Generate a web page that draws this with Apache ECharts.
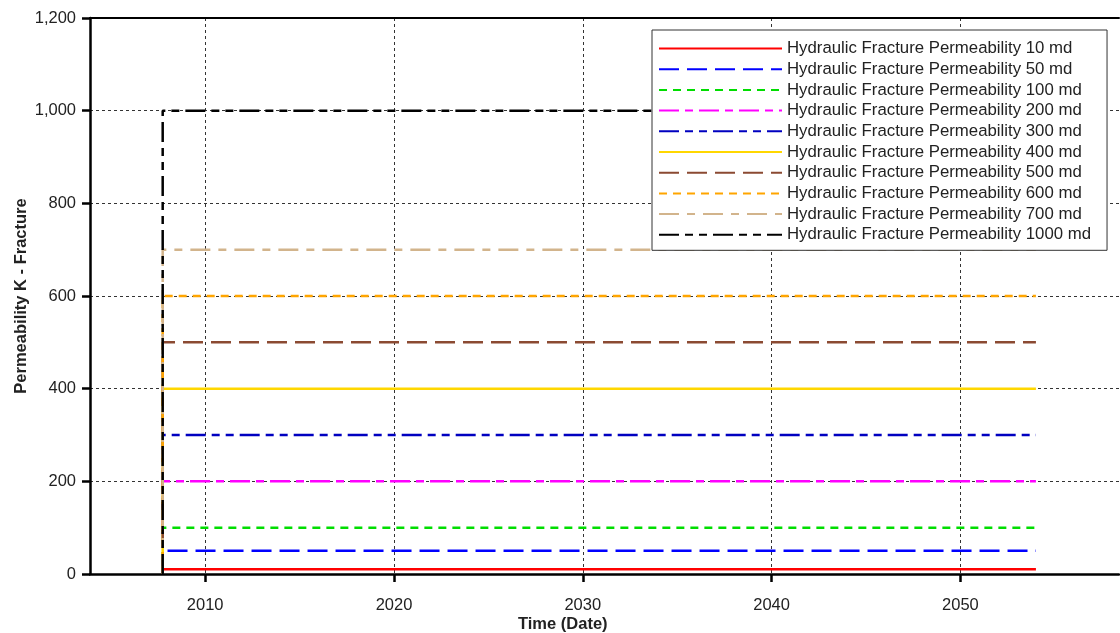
<!DOCTYPE html>
<html>
<head>
<meta charset="utf-8">
<script src="https://cdn.jsdelivr.net/npm/echarts@6/dist/echarts.min.js"></script>
<style>
  html, body { margin: 0; padding: 0; background: #fff; }
  #frac-perm { width: 1120px; height: 633px; }
</style>
</head>
<body>
<div id="frac-perm"></div>
<script>
  // data
  var seriesNames = [
    'Hydraulic Fracture Permeability 10 md',
    'Hydraulic Fracture Permeability 50 md',
    'Hydraulic Fracture Permeability 100 md',
    'Hydraulic Fracture Permeability 200 md',
    'Hydraulic Fracture Permeability 300 md',
    'Hydraulic Fracture Permeability 400 md',
    'Hydraulic Fracture Permeability 500 md',
    'Hydraulic Fracture Permeability 600 md',
    'Hydraulic Fracture Permeability 700 md',
    'Hydraulic Fracture Permeability 1000 md'
  ]
  var permValues = [10, 50, 100, 200, 300, 400, 500, 600, 700, 1000]
  var startYear = 2007.75
  var endYear = 2054.0
  var yearTicks = [2010, 2020, 2030, 2040, 2050]

  // styles
  var colors = ['#ff0000', '#0000ff', '#00dd00', '#ff00ff', '#0000c0', '#ffd700', '#8b4a32', '#ffa500', '#d2b48c', '#000000']
  var dashes = ['solid', [20, 8], [8, 6], [20, 6, 8, 6], [20, 6, 8, 6, 8, 6], 'solid', [20, 8], [8, 6], [20, 8, 8, 8], [20, 6, 8, 6, 8, 6]]

  var chart = echarts.init(document.getElementById('frac-perm'))

  var series = permValues.map(function (v, i) {
    return {
      name: seriesNames[i],
      type: 'line',
      showSymbol: false,
      symbol: 'none',
      animation: false,
      lineStyle: { color: colors[i], width: 2.5, type: dashes[i] },
      itemStyle: { color: colors[i] },
      data: [[startYear, 0], [startYear, v], [endYear, v]]
    }
  })

  var font = 'Liberation Sans, Arial, sans-serif'

  var option = {
    backgroundColor: '#fff',
    animation: false,
    textStyle: { fontFamily: font },
    title: {
      text: 'Time (Date)',
      left: 518,
      top: 616,
      padding: 0,
      textStyle: { fontSize: 16.5, fontWeight: 'bold', color: '#222', fontFamily: font }
    },
    grid: { left: 90, right: 1, top: 18, bottom: 59 },
    legend: {
      orient: 'vertical',
      left: 652,
      top: 30,
      data: seriesNames,
      itemWidth: 123,
      itemHeight: 14,
      itemGap: 3.7,
      padding: [10, 16, 7, 6],
      backgroundColor: '#fff',
      borderColor: '#333',
      borderWidth: 1,
      itemStyle: { opacity: 0 },
      textStyle: { fontSize: 16.8, color: '#222', fontFamily: font }
    },
    xAxis: [{
      type: 'value',
      min: 2003.9,
      max: 2058.4,
      axisLine: { lineStyle: { color: '#000', width: 2.5 } },
      axisTick: { customValues: yearTicks, length: 8, lineStyle: { color: '#000', width: 2.5 } },
      axisLabel: {
        customValues: yearTicks,
        margin: 23,
        fontSize: 16.5,
        color: '#222',
        formatter: function (v) { return String(v) }
      },
      splitLine: { show: true, lineStyle: { color: '#333', type: [3, 3], width: 1 } }
    }, {
      type: 'value',
      position: 'top',
      min: 2003.9,
      max: 2058.4,
      axisLine: { show: true, lineStyle: { color: '#000', width: 2 } },
      axisTick: { show: false },
      axisLabel: { show: false },
      splitLine: { show: false }
    }],
    yAxis: {
      type: 'value',
      min: 0,
      max: 1200,
      interval: 200,
      name: 'Permeability K - Fracture',
      nameLocation: 'middle',
      nameGap: 60,
      nameMoveOverlap: false,
      nameTextStyle: { fontSize: 16.5, fontWeight: 'bold', color: '#222' },
      axisLine: { show: true, lineStyle: { color: '#000', width: 2.5 } },
      axisTick: { show: true, length: 8, lineStyle: { color: '#000', width: 2.5 } },
      axisLabel: {
        margin: 14,
        fontSize: 16.5,
        color: '#222',
        formatter: function (v) { return v.toLocaleString('en-US') }
      },
      splitLine: { show: true, lineStyle: { color: '#333', type: [3, 3], width: 1 } }
    },
    series: series
  }

  chart.setOption(option)
</script>
</body>
</html>
